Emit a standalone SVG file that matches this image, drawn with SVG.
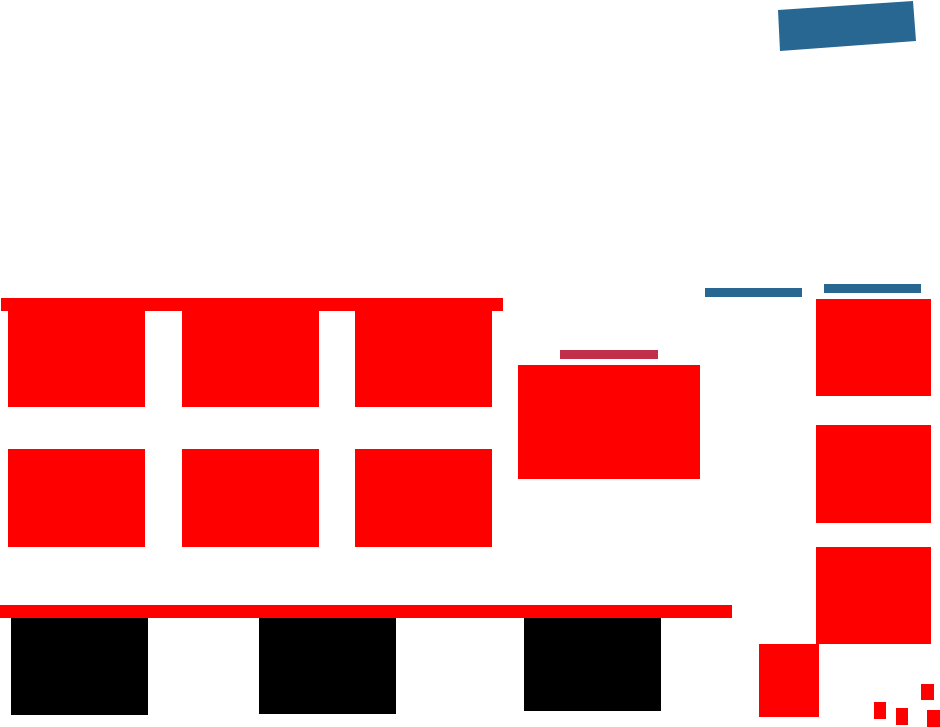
<svg xmlns="http://www.w3.org/2000/svg" width="940" height="727" viewBox="0 0 940 727">
<style>
.r{fill:#ff0000}
.b{fill:#000000}
.bl{fill:#276792}
.c{fill:#c1304a}
</style>
<rect width="940" height="727" fill="#ffffff"/>
<g id="header-blue"><polygon class="bl" points="778,10 913,1 916,41 780,51"/></g>
<g id="top-bar"><rect class="r" x="1" y="298" width="502" height="13"/></g>
<g id="box-1-1"><rect class="r" x="8" y="311" width="137" height="96"/></g>
<g id="box-1-2"><rect class="r" x="182" y="311" width="137" height="96"/></g>
<g id="box-1-3"><rect class="r" x="355" y="311" width="137" height="96"/></g>
<g id="box-2-1"><rect class="r" x="8" y="449" width="137" height="98"/></g>
<g id="box-2-2"><rect class="r" x="182" y="449" width="137" height="98"/></g>
<g id="box-2-3"><rect class="r" x="355" y="449" width="137" height="98"/></g>
<g id="mid-label"><rect class="c" x="560" y="350" width="98" height="9"/></g>
<g id="mid-box"><rect class="r" x="518" y="365" width="182" height="114"/></g>
<g id="blue-bar-left"><rect class="bl" x="705" y="288" width="97" height="9"/></g>
<g id="blue-bar-right"><rect class="bl" x="824" y="284" width="97" height="9"/></g>
<g id="right-box-1"><rect class="r" x="816" y="299" width="115" height="97"/></g>
<g id="right-box-2"><rect class="r" x="816" y="425" width="115" height="98"/></g>
<g id="right-box-3"><rect class="r" x="816" y="547" width="115" height="97"/></g>
<g id="corner-box"><rect class="r" x="759" y="644" width="60" height="73"/></g>
<g id="bottom-bar"><rect class="r" x="0" y="605" width="732" height="13"/></g>
<g id="black-1"><rect class="b" x="11" y="618" width="137" height="97"/></g>
<g id="black-2"><rect class="b" x="259" y="618" width="137" height="96"/></g>
<g id="black-3"><rect class="b" x="524" y="618" width="137" height="93"/></g>
<g id="small-squares">
<rect class="r" x="921" y="684" width="13" height="16"/>
<rect class="r" x="874" y="702" width="12" height="17"/>
<rect class="r" x="896" y="708" width="12" height="17"/>
<rect class="r" x="927" y="710" width="13" height="17"/>
</g>
</svg>
